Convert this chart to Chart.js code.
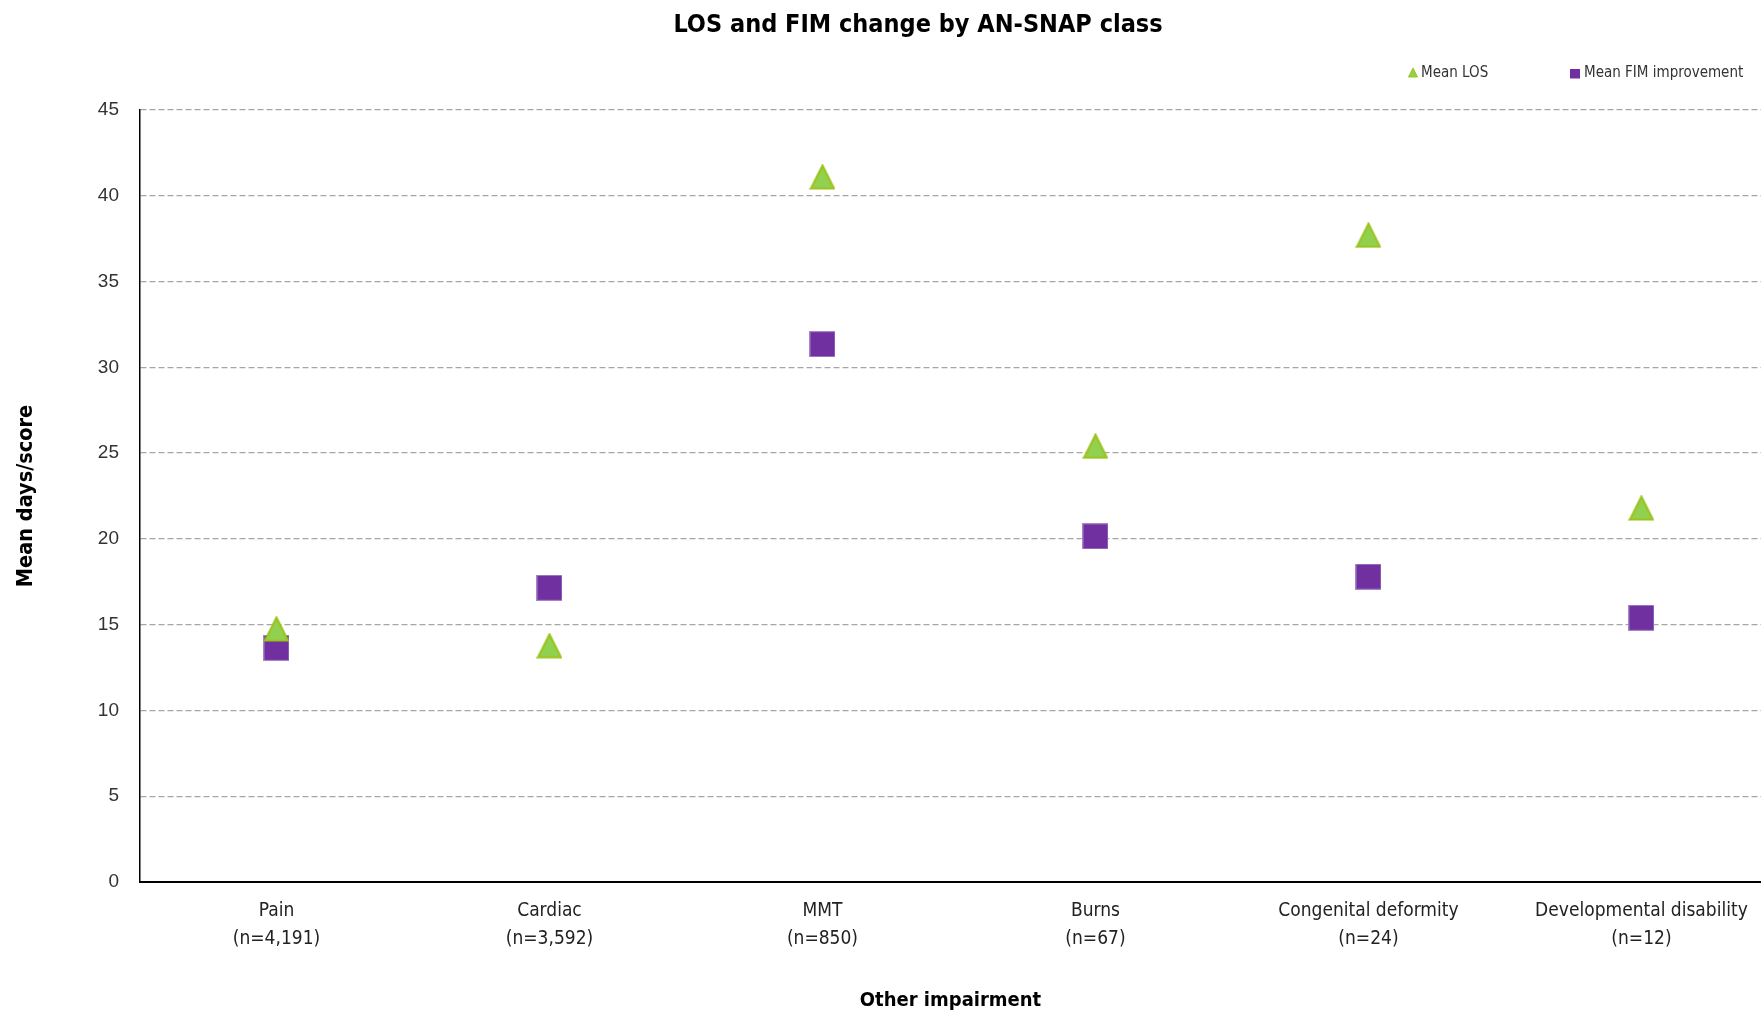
<!DOCTYPE html>
<html>
<head>
<meta charset="utf-8">
<script src="https://cdn.jsdelivr.net/npm/chart.js@4/dist/chart.umd.min.js"></script>
<style>
  html, body { margin: 0; padding: 0; background: #ffffff; overflow: hidden; }
  #wrap { position: relative; width: 1761px; height: 1013px; }
</style>
</head>
<body>
<div id="wrap"><canvas id="c" width="1761" height="1013"></canvas></div>
<script>
// ---- data ----
const chartTitle = 'LOS and FIM change by AN-SNAP class';
const categories = ['Pain', 'Cardiac', 'MMT', 'Burns', 'Congenital deformity', 'Developmental disability'];
const sampleSizes = ['(n=4,191)', '(n=3,592)', '(n=850)', '(n=67)', '(n=24)', '(n=12)'];
const seriesNames = ['Mean LOS', 'Mean FIM improvement'];
const meanLOS = [14.75, 13.77, 41.1, 25.4, 37.7, 21.8];
const meanFIM = [13.65, 17.15, 31.35, 20.15, 17.8, 15.4];
const yTickValues = [0, 5, 10, 15, 20, 25, 30, 35, 40, 45];
const xAxisTitle = 'Other impairment';
const yAxisTitle = 'Mean days/score';

// ---- styles ----
const NARROW = '"Liberation Sans Narrow", "Arial Narrow", "DejaVu Sans Condensed", sans-serif';
const REGULAR = '"Liberation Sans", Arial, sans-serif';
const GREEN_FILL = '#92D050';
const GREEN_EDGE = '#9BC31A';
const PURPLE_FILL = '#7030A0';
const PURPLE_EDGE = '#A585C8';

function makeTriangle(w, h, lw) {
  const cv = document.createElement('canvas');
  cv.width = w; cv.height = h;
  const g = cv.getContext('2d');
  g.beginPath();
  g.moveTo(w / 2, lw / 2 + 0.5);
  g.lineTo(w - lw / 2 - 0.5, h - lw / 2 - 0.5);
  g.lineTo(lw / 2 + 0.5, h - lw / 2 - 0.5);
  g.closePath();
  g.fillStyle = GREEN_FILL; g.fill();
  g.lineWidth = lw; g.lineJoin = 'miter'; g.strokeStyle = GREEN_EDGE; g.stroke();
  return cv;
}
function makeSquare(s, lw) {
  const cv = document.createElement('canvas');
  cv.width = s; cv.height = s;
  const g = cv.getContext('2d');
  g.fillStyle = PURPLE_FILL;
  g.fillRect(0, 0, s, s);
  if (lw > 0) {
    g.lineWidth = lw; g.strokeStyle = PURPLE_EDGE;
    g.strokeRect(lw / 2, lw / 2, s - lw, s - lw);
  }
  return cv;
}
const triBig = makeTriangle(26, 26, 2);
const sqBig = makeSquare(26, 1);

const toPoints = arr => arr.map((v, i) => ({ x: i, y: v }));

const headerPlugin = {
  id: 'headerLegend',
  afterDraw(chart) {
    const ctx = chart.ctx;
    ctx.save();
    ctx.fillStyle = '#000000';
    ctx.font = 'bold 25px ' + NARROW;
    ctx.textAlign = 'center';
    ctx.textBaseline = 'middle';
    ctx.fillText(chartTitle, 918, 25);
    // legend
    ctx.font = '15px ' + NARROW;
    ctx.textAlign = 'left';
    ctx.textBaseline = 'alphabetic';
    ctx.beginPath();
    ctx.moveTo(1413, 68);
    ctx.lineTo(1417.5, 77);
    ctx.lineTo(1408.5, 77);
    ctx.closePath();
    ctx.fillStyle = GREEN_FILL; ctx.fill();
    ctx.lineWidth = 1; ctx.strokeStyle = GREEN_EDGE; ctx.stroke();
    ctx.fillStyle = '#333333';
    ctx.fillText(seriesNames[0], 1421, 77);
    ctx.fillStyle = PURPLE_FILL;
    ctx.fillRect(1570, 69, 10, 9.5);
    ctx.fillStyle = '#333333';
    ctx.fillText(seriesNames[1], 1584, 77);
    ctx.restore();
  }
};

new Chart(document.getElementById('c'), {
  type: 'scatter',
  data: {
    datasets: [
      {
        label: seriesNames[0],
        data: toPoints(meanLOS),
        pointStyle: triBig,
        pointRadius: 13,
        pointHoverRadius: 13,
        backgroundColor: GREEN_FILL,
        borderColor: GREEN_EDGE,
        clip: false
      },
      {
        label: seriesNames[1],
        data: toPoints(meanFIM),
        pointStyle: sqBig,
        pointRadius: 13,
        pointHoverRadius: 13,
        backgroundColor: PURPLE_FILL,
        borderColor: PURPLE_EDGE,
        clip: false
      }
    ]
  },
  options: {
    responsive: false,
    animation: false,
    events: [],
    layout: { autoPadding: false, padding: { top: 110, right: 0, left: 0, bottom: 0 } },
    plugins: {
      legend: { display: false },
      title: { display: false },
      tooltip: { enabled: false }
    },
    scales: {
      x: {
        type: 'linear',
        min: -0.5,
        max: 5.438,
        afterBuildTicks(scale) {
          scale.ticks = categories.map((c, i) => ({ value: i }));
        },
        afterFit(scale) {
          scale.height = 131;
          scale.paddingLeft = 0;
          scale.paddingRight = 0;
        },
        grid: { display: false, drawTicks: false },
        border: { display: true, color: '#000000', width: 2 },
        ticks: {
          autoSkip: false,
          maxRotation: 0,
          minRotation: 0,
          padding: 15,
          color: '#222222',
          font: { family: NARROW, size: 19, lineHeight: 1.47 },
          callback: (value) => [categories[value], sampleSizes[value]]
        },
        title: {
          display: true,
          text: xAxisTitle,
          color: '#000000',
          font: { family: NARROW, size: 20, weight: 'bold', lineHeight: 1.2 },
          padding: { top: 3, bottom: 0 }
        }
      },
      y: {
        min: 0,
        max: 45,
        afterBuildTicks(scale) {
          scale.ticks = yTickValues.map(v => ({ value: v }));
        },
        afterFit(scale) { scale.width = 140; },
        grid: {
          color: '#A6A6A6',
          lineWidth: 1.3,
          drawTicks: false,
          tickLength: 0
        },
        border: { display: true, color: '#000000', width: 1.5, dash: [6, 3] },
        ticks: {
          padding: 21,
          color: '#333333',
          font: { family: REGULAR, size: 19 }
        },
        title: {
          display: true,
          text: yAxisTitle,
          color: '#000000',
          font: { family: NARROW, size: 21.5, weight: 'bold', lineHeight: 1.2 },
          padding: { top: 14, bottom: 0 }
        }
      }
    }
  },
  plugins: [headerPlugin]
});
</script>
</body>
</html>
